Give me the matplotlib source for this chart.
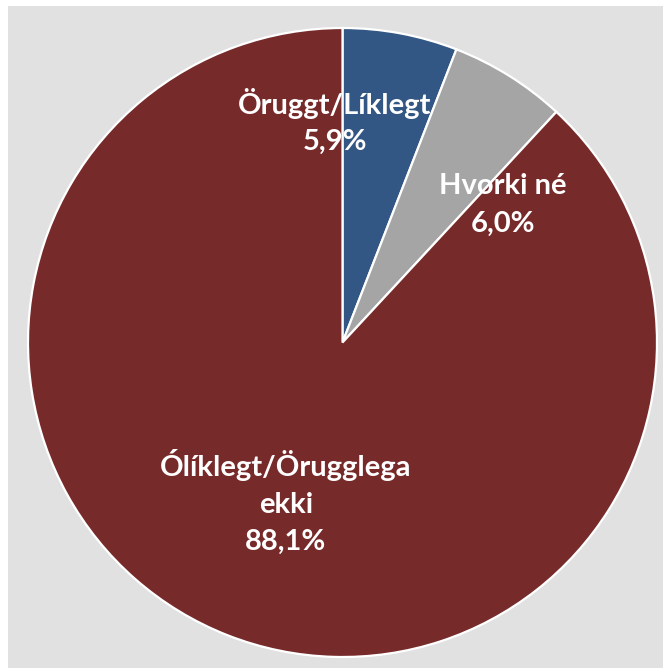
import matplotlib.pyplot as plt
from matplotlib.patches import Rectangle

# Gögn
flokkar = ["Öruggt/Líklegt", "Hvorki né", "Ólíklegt/Örugglega\nekki"]
hlutfall = [5.9, 6.0, 88.1]
litir = ["#335784", "#a5a5a5", "#772a2a"]

W, H = 663, 668
fig = plt.figure(figsize=(W / 100, H / 100), dpi=100)
fig.patch.set_facecolor("white")
ax = fig.add_axes([0, 0, 1, 1])

# grár bakgrunnur
ax.add_patch(Rectangle((8, 0), W - 8, H - 6, facecolor="#e1e1e1", edgecolor="none", zorder=0))

cx, cy, r = 342.5, H - 342.5, 314.5
wedges, _ = ax.pie(hlutfall, colors=litir, startangle=90, counterclock=False,
                   center=(cx, cy), radius=r,
                   wedgeprops=dict(edgecolor="white", linewidth=1.6))

# staðsetning merkja (í hlutföllum af radíus)
merki_pos = [(-0.024, 0.703), (0.51, 0.437), (-0.18, -0.508)]
bil = [1.43, 1.55, 1.52]
for nafn, p, (dx, dy), ls in zip(flokkar, hlutfall, merki_pos, bil):
    texti = f"{nafn}\n{p:.1f}%".replace(".", ",")
    ax.text(cx + dx * r, cy + dy * r, texti, ha="center", va="center",
            color="white", fontsize=21, fontweight="bold", family="Lato",
            linespacing=ls)

ax.set_xlim(0, W)
ax.set_ylim(0, H)
ax.set_aspect("auto")
ax.axis("off")
fig.savefig("out.png", dpi=100)
